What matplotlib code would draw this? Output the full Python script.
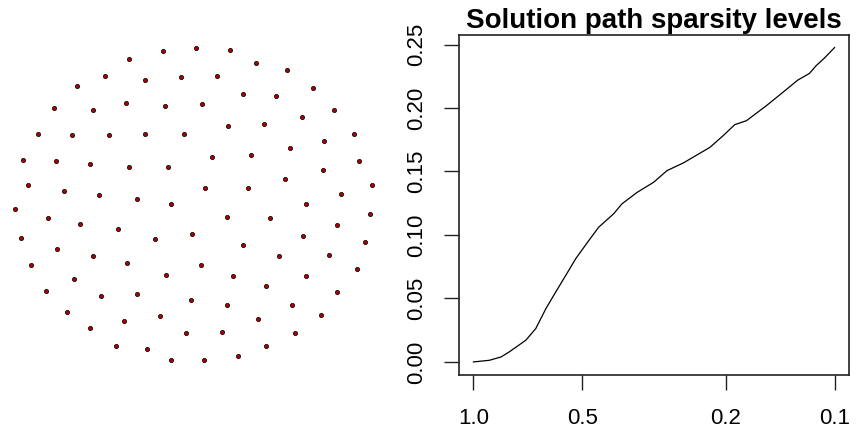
import matplotlib
matplotlib.use("Agg")
import matplotlib.pyplot as plt
from matplotlib.ticker import FixedLocator, FixedFormatter, NullLocator

plt.rcParams["font.family"] = ["Liberation Sans", "DejaVu Sans"]

# left panel: point cloud (x, y, y grows downward)
pt_x = [195.7, 163, 129, 181, 145.3, 104.7, 77, 125.7, 164.7, 202.3, 93, 54,
        37.7, 71.7, 109.3, 145.3, 184, 23, 55.7, 89.7, 129, 168, 28, 63.7,
        99.3, 137, 171.3, 15, 47.7, 80, 117.7,
        230, 256.3, 286.7, 217, 313, 243, 275.7, 334, 301.7, 228.3, 264,
        353.7, 324.3, 290, 212, 251, 358.7, 323, 285.3, 205.3, 247.7, 371.7,
        340.7, 306.3, 226.7, 270.3, 370, 337,
        155, 192.3, 21.3, 57.3, 93, 127.3, 31, 73.7, 166.3, 46, 101, 136.7,
        190.7, 67, 124, 160, 89.7, 186, 116, 146.7, 171.3,
        303.3, 365, 243, 278.7, 329.3, 200.7, 233, 306.3, 357, 266, 337.3,
        226.7, 292, 321.3, 257.7, 222, 295, 266, 238.3, 203.7]
pt_y = [48.3, 51.3, 58.7, 77, 80, 75.7, 85.7, 102.7, 105.7, 104, 110, 108.3,
        134, 135.3, 135.3, 134, 134, 159.7, 161, 164, 166.7, 166.7, 185.3, 191,
        195, 199.3, 203.7, 209.3, 218, 223.7, 229.3,
        50, 62.7, 70, 75.7, 88.3, 94, 95.7, 109.7, 117, 125.7, 124,
        134, 141, 148, 156.7, 155.3, 161, 169.7, 179.3, 188, 188, 185.3,
        193.7, 203.7, 216.7, 218, 213.7, 225,
        239.3, 233.7, 238, 249.3, 256.3, 263.3, 265, 279.3, 275, 290.7, 296.3, 293.7,
        300.3, 312, 320.7, 316.3, 327.7, 333.3, 346, 349, 360.3,
        236.3, 242.3, 245, 256.3, 255, 265, 276.3, 276.3, 269.3, 286.3, 292,
        305, 305, 315, 319, 332, 333.3, 346, 356, 360.3]

# right panel: solution path
lam = [1.0, 0.903, 0.839, 0.796, 0.716, 0.672, 0.630, 0.592, 0.555, 0.521,
       0.479, 0.450, 0.409, 0.388, 0.352, 0.317, 0.291, 0.262, 0.2214, 0.2035,
       0.1889, 0.1754, 0.1545, 0.1391, 0.1264, 0.1174, 0.1125, 0.1067, 0.100]
sparsity = [0.0, 0.0013, 0.0039, 0.0079, 0.0171, 0.0263, 0.0420, 0.0550, 0.0682,
            0.0813, 0.0957, 0.1061, 0.1167, 0.1245, 0.1336, 0.1415, 0.1507, 0.1568,
            0.1690, 0.1782, 0.1869, 0.1900, 0.2018, 0.2123, 0.2220, 0.2272, 0.2333,
            0.2393, 0.2476]
x_ticks = [1.0, 0.5, 0.2, 0.1]
x_labels = ["1.0", "0.5", "0.2", "0.1"]
y_ticks = [0.0, 0.05, 0.10, 0.15, 0.20, 0.25]
y_labels = ["0.00", "0.05", "0.10", "0.15", "0.20", "0.25"]

fig = plt.figure(figsize=(8.67, 4.32), dpi=100)

ax1 = fig.add_axes([0, 0, 390 / 867, 1])
ax1.scatter(pt_x, pt_y, s=9, c="#b00000", edgecolors="#111111", linewidths=0.6)
ax1.set_xlim(0, 390)
ax1.set_ylim(432, 0)
ax1.axis("off")

ax2 = fig.add_axes([459 / 867, 57.5 / 432, 390 / 867, 339.5 / 432])
ax2.plot(lam, sparsity, color="black", lw=0.9)
ax2.set_xscale("log")
ax2.set_xlim(1.0965, 0.0912)
ax2.set_ylim(-0.0099, 0.2575)
ax2.xaxis.set_major_locator(FixedLocator(x_ticks))
ax2.xaxis.set_major_formatter(FixedFormatter(x_labels))
ax2.xaxis.set_minor_locator(NullLocator())
ax2.yaxis.set_major_locator(FixedLocator(y_ticks))
ax2.yaxis.set_major_formatter(FixedFormatter(y_labels))
ax2.tick_params(axis="both", length=11, width=1, labelsize=16, color="#222222")
ax2.tick_params(axis="x", pad=13)
ax2.tick_params(axis="y", pad=12)
for lbl in ax2.get_yticklabels():
    lbl.set_rotation(90)
    lbl.set_va("center")
for sp in ax2.spines.values():
    sp.set_linewidth(1.2)
    sp.set_color("#222222")
ax2.set_title("Solution path sparsity levels", fontsize=20, fontweight="bold",
              pad=5, x=0.5)

fig.savefig("out.png", dpi=100)
